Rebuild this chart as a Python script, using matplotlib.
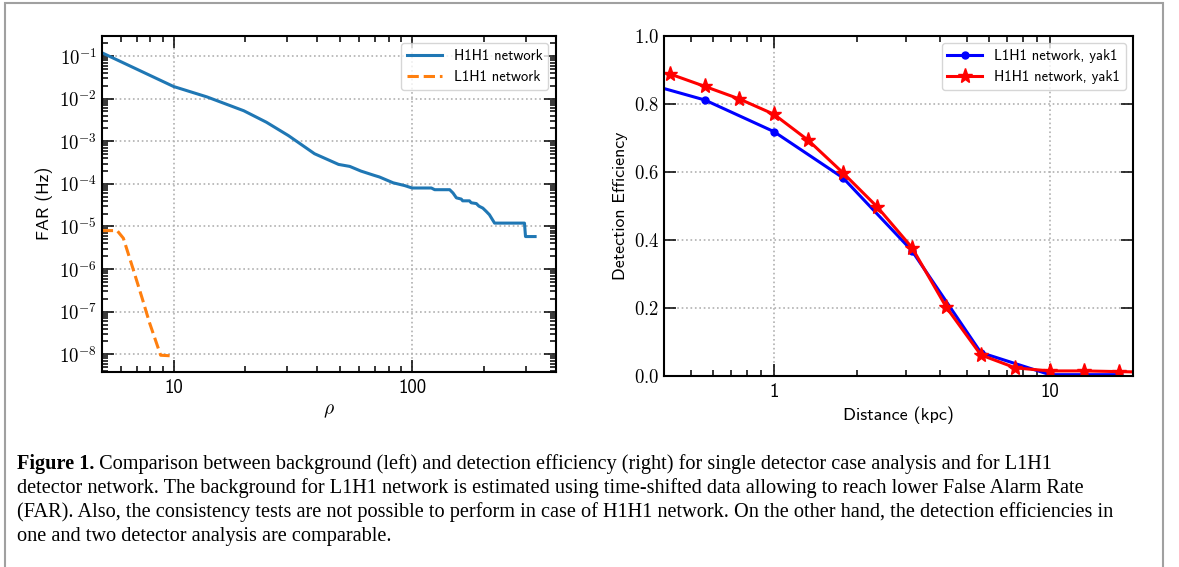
import numpy as np
import matplotlib
matplotlib.use("Agg")
import matplotlib.pyplot as plt
from matplotlib.ticker import FuncFormatter, LogLocator, NullFormatter
from matplotlib.patches import Rectangle

plt.rcParams['font.family'] = ['cmss10', 'DejaVu Sans']
plt.rcParams['mathtext.fontset'] = 'cm'
plt.rcParams['axes.unicode_minus'] = False

# ---- left panel: background FAR vs rho ----
rho_h1h1 = [5.0, 10.0, 13.8, 19.7, 24.5, 30.3, 39.0, 49.2, 54.8, 61.0, 69.2, 73.0,
            83.3, 93.2, 100.0, 120.5, 124.4, 143.8, 148.5, 153.4, 160.8, 163.0, 174.0,
            177.0, 186.0, 190.7, 198.0, 204.6, 211.0, 221.8, 296.0, 299.0, 328.0]
far_h1h1 = [0.12, 0.0193, 0.011, 0.0052, 0.0028, 0.00136, 5.1e-4, 2.86e-4, 2.57e-4,
            2.0e-4, 1.59e-4, 1.45e-4, 1.06e-4, 9.1e-5, 8.0e-5, 8.0e-5, 7.3e-5, 7.3e-5,
            6.1e-5, 4.7e-5, 4.4e-5, 4.0e-5, 4.0e-5, 3.6e-5, 3.45e-5, 3.0e-5, 2.7e-5,
            2.26e-5, 1.89e-5, 1.2e-5, 1.2e-5, 5.8e-6, 5.8e-6]
rho_l1h1 = [5.0, 5.8, 6.16, 6.75, 7.38, 7.93, 8.83, 9.82]
far_l1h1 = [8.0e-6, 8.0e-6, 5.3e-6, 1.05e-6, 2.1e-7, 5.5e-8, 9.5e-9, 9.2e-9]

# ---- right panel: detection efficiency vs distance ----
dist_l1h1 = [0.316, 0.562, 1.0, 1.78, 3.16, 5.62, 10.0, 17.8]
eff_l1h1 = [0.868, 0.811, 0.718, 0.582, 0.368, 0.068, 0.003, 0.003]
dist_h1h1 = [0.422, 0.562, 0.750, 1.0, 1.334, 1.778, 2.371, 3.162, 4.217, 5.623,
             7.499, 10.0, 13.34, 17.78, 23.71]
eff_h1h1 = [0.887, 0.851, 0.814, 0.769, 0.692, 0.597, 0.496, 0.377, 0.201, 0.061,
            0.023, 0.014, 0.014, 0.012, 0.010]

caption = [
    ("Figure 1.", " Comparison between background (left) and detection efficiency (right) for single detector case analysis and for L1H1"),
    ("", "detector network. The background for L1H1 network is estimated using time-shifted data allowing to reach lower False Alarm Rate"),
    ("", "(FAR). Also, the consistency tests are not possible to perform in case of H1H1 network. On the other hand, the detection efficiencies in"),
    ("", "one and two detector analysis are comparable."),
]

fig = plt.figure(figsize=(11.79, 5.67), dpi=100)
ax1 = fig.add_axes([0.0863, 0.3444, 0.3850, 0.5926])
ax2 = fig.add_axes([0.5632, 0.3374, 0.3978, 0.5996])


def style(ax):
    for s in ax.spines.values():
        s.set_linewidth(1.5)
    ax.tick_params(which='both', direction='in', top=True, right=True, width=1.1)
    ax.tick_params(which='major', length=8.5)
    ax.tick_params(which='minor', length=4.5)
    ax.grid(True, which='major', linestyle=':', color='#b0b0b0', linewidth=1.2)


ax1.plot(rho_h1h1, far_h1h1, color='#1f77b4', lw=2.2, label='H1H1 network')
ax1.plot(rho_l1h1, far_l1h1, color='#ff7f0e', lw=2.2, ls='--', label='L1H1 network')
ax1.set_xscale('log')
ax1.set_yscale('log')
ax1.set_xlim(5, 400)
ax1.set_ylim(3.9e-9, 0.3)
ax1.yaxis.set_major_locator(LogLocator(base=10, numticks=20))
ax1.yaxis.set_minor_locator(LogLocator(base=10, subs=np.arange(2, 10), numticks=20))
ax1.yaxis.set_minor_formatter(NullFormatter())
ax1.yaxis.set_major_formatter(FuncFormatter(lambda v, p: r'$10^{%d}$' % round(np.log10(v))))
ax1.xaxis.set_major_formatter(FuncFormatter(lambda v, p: '%d' % v))
ax1.xaxis.set_minor_formatter(NullFormatter())
style(ax1)
ax1.tick_params(axis='y', labelsize=13.5)
ax1.tick_params(axis='x', labelsize=13.5, pad=5)
ax1.set_xlabel(r'$\rho$', fontsize=14)
ax1.set_ylabel('FAR (Hz)', fontsize=12.8)
ax1.legend(loc='upper right', fontsize=10.5, handlelength=2.4)

ax2.plot(dist_l1h1, eff_l1h1, color='blue', lw=2.2, marker='o', ms=5,
         label='L1H1 network, yak1')
ax2.plot(dist_h1h1, eff_h1h1, color='red', lw=2.2, marker='*', ms=11,
         label='H1H1 network, yak1')
ax2.set_xscale('log')
ax2.set_xlim(0.4, 20)
ax2.set_ylim(0, 1.0)
ax2.set_yticks([0.0, 0.2, 0.4, 0.6, 0.8, 1.0])
ax2.yaxis.set_major_formatter(FuncFormatter(lambda v, p: r'$%.1f$' % v))
ax2.xaxis.set_major_formatter(FuncFormatter(lambda v, p: '%g' % v))
ax2.xaxis.set_minor_formatter(NullFormatter())
style(ax2)
ax2.tick_params(axis='y', labelsize=13.5)
ax2.tick_params(axis='x', labelsize=13.5, pad=5)
ax2.set_xlabel('Distance (kpc)', fontsize=13)
ax2.set_ylabel('Detection Efficiency', fontsize=12.8)
ax2.legend(loc='upper right', fontsize=10.5, handlelength=2.4)

# page frame
fig.add_artist(Rectangle((5 / 1179, -0.1), 1158 / 1179, 1.1 - 3 / 567,
                         transform=fig.transFigure, fill=False,
                         ec='#a0a0a0', lw=1.5))

# caption
renderer = fig.canvas.get_renderer()
cap_font = ['Liberation Serif', 'DejaVu Serif']
y = 1 - 464 / 567
for bold, rest in caption:
    x = 17 / 1179
    if bold:
        t = fig.text(x, y, bold, family=cap_font, weight='bold', fontsize=14.6, va='center')
        bb = t.get_window_extent(renderer)
        x = bb.x1 / fig.bbox.width
    fig.text(x, y, rest, family=cap_font, fontsize=14.6, va='center')
    y -= 24 / 567

fig.savefig('out.png', dpi=100)
